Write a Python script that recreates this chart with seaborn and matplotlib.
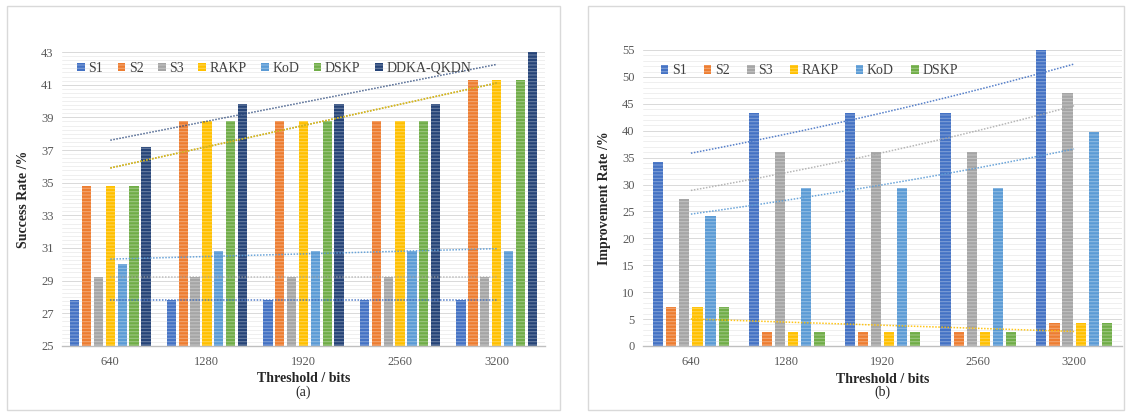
import numpy as np
import pandas as pd
import matplotlib
matplotlib.use("Agg")
import matplotlib.pyplot as plt
from matplotlib.patches import Rectangle
from matplotlib.ticker import MultipleLocator
import seaborn as sns

# ---- data -------------------------------------------------------------
thresholds = ["640", "1280", "1920", "2560", "3200"]

success_series = ["S1", "S2", "S3", "RAKP", "KoD", "DSKP", "DDKA-QKDN"]
success_s1 = [27.8, 27.8, 27.8, 27.8, 27.8]
success_s2 = [34.8, 38.8, 38.8, 38.8, 41.3]
success_s3 = [29.2, 29.2, 29.2, 29.2, 29.2]
success_rakp = [34.8, 38.8, 38.8, 38.8, 41.3]
success_kod = [30.0, 30.8, 30.8, 30.8, 30.8]
success_dskp = [34.8, 38.8, 38.8, 38.8, 41.3]
success_ddka = [37.2, 39.8, 39.8, 39.8, 43.0]

improve_series = ["S1", "S2", "S3", "RAKP", "KoD", "DSKP"]
improve_s1 = [34.2, 43.3, 43.3, 43.3, 55.0]
improve_s2 = [7.2, 2.6, 2.6, 2.6, 4.3]
improve_s3 = [27.3, 36.0, 36.0, 36.0, 47.0]
improve_rakp = [7.2, 2.6, 2.6, 2.6, 4.3]
improve_kod = [24.1, 29.3, 29.3, 29.3, 39.8]
improve_dskp = [7.2, 2.6, 2.6, 2.6, 4.3]

colors = {
    "S1": "#4472C4", "S2": "#ED7D31", "S3": "#A5A5A5", "RAKP": "#FFC000",
    "KoD": "#5B9BD5", "DSKP": "#70AD47", "DDKA-QKDN": "#264478",
}

success = dict(zip(success_series, [success_s1, success_s2, success_s3, success_rakp,
                                     success_kod, success_dskp, success_ddka]))
improve = dict(zip(improve_series, [improve_s1, improve_s2, improve_s3, improve_rakp,
                                    improve_kod, improve_dskp]))


def long_frame(table):
    rows = []
    for name, vals in table.items():
        for t, v in zip(thresholds, vals):
            rows.append({"Threshold": t, "Series": name, "Value": v})
    return pd.DataFrame(rows)


# ---- style ------------------------------------------------------------
sns.set_theme(style="white")
plt.rcParams["font.family"] = ["Liberation Serif", "DejaVu Serif"]
plt.rcParams["hatch.linewidth"] = 0.8

fig = plt.figure(figsize=(11.26, 4.12), dpi=100)
fig.patch.set_facecolor("white")

# chart-area frames
for x0, w in [(7 / 1126, 553 / 1126), (588 / 1126, 536 / 1126)]:
    fig.patches.append(Rectangle((x0, 2 / 412), w, 404 / 412, transform=fig.transFigure,
                                 fill=False, edgecolor="#D9D9D9", linewidth=1.0))

ax_a = fig.add_axes([62 / 1126, 66 / 412, 483 / 1126, 294 / 412])
ax_b = fig.add_axes([643 / 1126, 66 / 412, 479 / 1126, 296 / 412])

tick_color = "#595959"


def draw_panel(ax, table, series, width, ylim, yticks, minor, ylabel, tag, trends,
               leg_anchor, colspace):
    df = long_frame(table)
    sns.barplot(data=df, x="Threshold", y="Value", hue="Series", hue_order=series,
                order=thresholds, palette=[colors[s] for s in series],
                width=width, gap=0.22, ax=ax, saturation=1, legend=True)
    for p in ax.patches:
        p.set_hatch("-----")
        p.set_edgecolor((1, 1, 1, 0.3))
        p.set_linewidth(0)

    xs = np.arange(len(thresholds))
    xc = xs - xs.mean()
    for name, kind, alpha in trends:
        y = np.asarray(table[name], dtype=float)
        xx = np.linspace(xc[0], xc[-1], 60)
        if kind == "exp":
            k, b = np.polyfit(xc, np.log(y), 1)
            yy = np.exp(b + k * xx)
        else:
            k, b = np.polyfit(xc, y, 1)
            yy = b + k * xx
        ax.plot(xx + xs.mean(), yy, linestyle=(0, (1, 1)), color=colors[name],
                linewidth=1.1, alpha=alpha, zorder=5)

    ax.set_ylim(*ylim)
    ax.set_xlim(-0.5, len(thresholds) - 0.5)
    ax.set_yticks(yticks)
    ax.yaxis.set_minor_locator(MultipleLocator(minor))
    ax.set_axisbelow(True)
    ax.grid(axis="y", which="major", color="#D9D9D9", linewidth=0.7)
    ax.grid(axis="y", which="minor", color="#EDEDED", linewidth=0.6)
    for s in ["top", "right", "left"]:
        ax.spines[s].set_visible(False)
    ax.spines["bottom"].set_color("#BFBFBF")
    ax.spines["bottom"].set_linewidth(1.0)
    ax.tick_params(axis="both", which="both", length=0, labelsize=9,
                   colors=tick_color)
    ax.tick_params(axis="x", pad=7)
    ax.tick_params(axis="y", pad=6)
    ax.set_xlabel("Threshold / bits", fontsize=10, fontweight="bold",
                  color="#262626")
    ax.xaxis.set_label_coords(0.5, -0.09)
    ax.text(0.5, -0.157, tag, transform=ax.transAxes, ha="center", va="center",
            fontsize=10, color="#262626")
    ax.set_ylabel(ylabel, fontsize=10, fontweight="bold", color="#262626", labelpad=8)

    handles, labels = ax.get_legend_handles_labels()
    ax.legend(handles, labels, loc="upper left", bbox_to_anchor=leg_anchor,
              ncol=len(series), frameon=False, fontsize=10, handlelength=0.55,
              handleheight=0.55, handletextpad=0.25, columnspacing=colspace,
              labelcolor="#404040", borderaxespad=0)


draw_panel(ax_a, success, success_series, 0.86, (25, 43), np.arange(25, 44, 2), 0.25,
           "Success Rate /%", "(a)",
           [("S1", "lin", 0.9), ("S3", "lin", 0.7), ("KoD", "lin", 0.9),
            ("S2", "lin", 0.6), ("DSKP", "lin", 0.8), ("RAKP", "lin", 0.7),
            ("DDKA-QKDN", "lin", 0.8)],
           (0.02, 0.985), 1.05)

draw_panel(ax_b, improve, improve_series, 0.82, (0, 55), np.arange(0, 56, 5), 1,
           "Improvement Rate /%", "(b)",
           [("S1", "exp", 0.9), ("S3", "exp", 0.8), ("KoD", "exp", 0.9),
            ("RAKP", "lin", 0.9)],
           (0.025, 0.97), 1.25)

fig.savefig("out.png", dpi=100, facecolor="white")
